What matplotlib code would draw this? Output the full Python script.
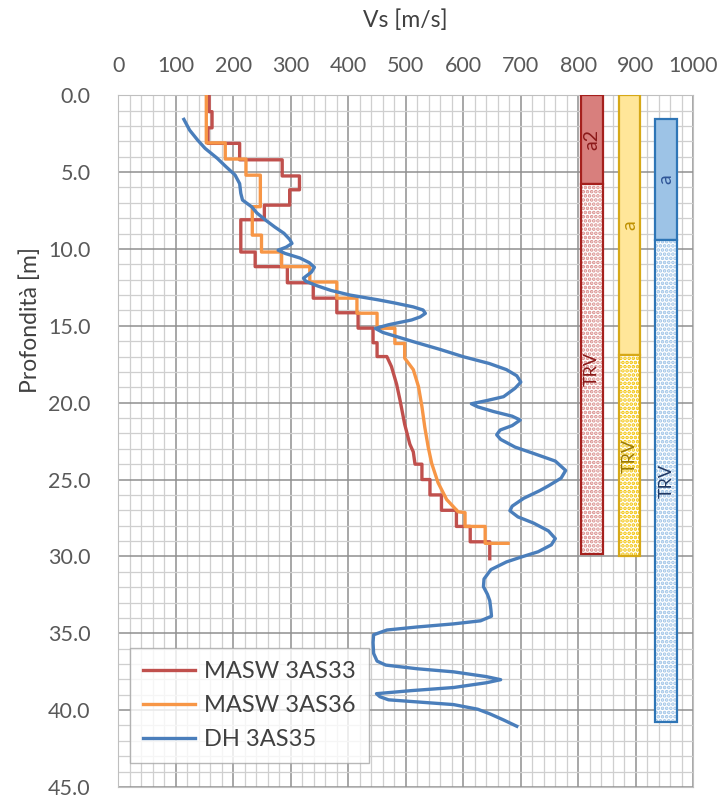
import numpy as np
import matplotlib
matplotlib.use('Agg')
import matplotlib.pyplot as plt
from matplotlib.ticker import MultipleLocator, FormatStrFormatter

plt.rcParams['font.family'] = ['Lato', 'DejaVu Sans']

# --- data ---
# MASW 3AS33 (step profile + smooth tail)
masw33_vs = [158, 158, 163, 163, 156, 156, 211, 211, 285, 285, 315, 315, 298, 298, 254, 254,
             213, 213, 238, 238, 294, 294, 339, 339, 380, 380, 417, 417, 443, 443, 450, 450,
             467, 475, 484, 490, 498, 507, 513, 516, 528, 528, 542, 542, 562, 562, 588, 588,
             612, 612, 646, 646]
masw33_z = [0, 1.07, 1.07, 2.12, 2.12, 3.13, 3.13, 4.2, 4.2, 5.25, 5.25, 6.15, 6.15, 7.15, 7.15, 8.1,
            8.1, 10.2, 10.2, 11.15, 11.15, 12.2, 12.2, 13.2, 13.2, 14.15, 14.15, 15.15, 15.15, 16.1, 16.1, 17.0,
            17.0, 17.65, 18.8, 19.85, 21.4, 22.7, 23.2, 24.0, 24.0, 25.0, 25.0, 26.0, 26.0, 27.0, 27.0, 28.05,
            28.05, 29.05, 29.05, 30.15]

# MASW 3AS36
masw36_vs = [153, 153, 186, 186, 222, 222, 247, 247, 233, 233, 249, 249, 284, 284, 333, 333,
             380, 380, 415, 415, 450, 450, 481, 481, 498, 498, 513, 522, 528, 533, 539, 545,
             556, 571, 591, 603, 603, 638, 638, 678]
masw36_z = [0, 3.1, 3.1, 4.15, 4.15, 5.2, 5.2, 7.25, 7.25, 9.1, 9.1, 10.2, 10.2, 11.15, 11.15, 12.15,
            12.15, 13.2, 13.2, 14.18, 14.18, 15.16, 15.16, 16.15, 16.15, 17.1, 17.85, 18.95, 20.25, 21.6, 22.9, 23.95,
            25.2, 26.3, 27.1, 27.15, 28.05, 28.05, 29.15, 29.15]

# DH 3AS35 (down-hole)
dh_z = [1.57, 2.27, 2.92, 3.46, 4.1, 4.64, 5.19, 5.75, 6.38, 6.82, 7.26, 7.66, 8.12, 8.57, 8.98, 9.38,
        9.64, 9.88, 10.08, 10.29, 10.59, 10.89, 11.19, 11.5, 11.9, 12.1, 12.4, 12.7, 13.0, 13.31, 13.51, 13.77,
        13.97, 14.19, 14.42, 14.62, 14.93, 15.17, 15.43, 16.03, 16.54, 17.01, 17.45, 17.85, 18.25, 18.66, 19.06, 19.61,
        19.87, 20.07, 20.27, 20.57, 20.88, 21.13, 21.49, 21.78, 22.09, 22.39, 22.89, 23.3, 23.8, 24.41, 24.91, 25.41,
        25.72, 26.22, 26.73, 27.03, 27.43, 27.83, 28.34, 28.84, 29.25, 29.7, 30.05, 30.36, 30.86, 31.47, 31.97, 32.47,
        32.88, 33.48, 33.89, 34.19, 34.39, 34.59, 34.79, 35.1, 35.6, 36.31, 36.81, 37.07, 37.31, 37.51, 37.82, 38.02,
        38.22, 38.53, 38.73, 38.93, 39.13, 39.33, 39.64, 39.94, 40.24, 40.64, 41.05]
dh_vs = [114, 124, 138, 151, 172, 187, 203, 211, 213, 216, 232, 241, 256, 272, 288, 298,
         302, 292, 278, 290, 316, 332, 341, 336, 322, 326, 346, 370, 403, 452, 480, 513,
         530, 534, 525, 510, 470, 447, 460, 513, 560, 600, 645, 675, 693, 700, 690, 670,
         640, 614, 625, 652, 685, 699, 685, 664, 658, 665, 690, 722, 760, 778, 770, 748,
         733, 705, 685, 681, 695, 722, 748, 760, 753, 730, 700, 675, 648, 636, 635, 642,
         646, 648, 649, 630, 583, 520, 467, 444, 443, 444, 450, 465, 520, 583, 640, 665,
         640, 583, 510, 449, 455, 470, 583, 625, 646, 670, 693]

# stratigraphic columns
col_x = [824, 889, 953]
col_top = [[0, 5.8], [0, 16.9], [1.55, 9.4]]
col_bot = [[5.8, 29.85], [16.9, 30.0], [9.4, 40.8]]
col_lab = [['a2', 'TRV'], ['a', 'TRV'], ['a', 'TRV']]

red = '#c0504d'
orange = '#f79646'
blue = '#4a7ebb'

fig = plt.figure(figsize=(7.25, 8.01), dpi=100)
ax = fig.add_axes([0.1632, 0.0175, 0.7931, 0.8636])

ax.set_xlim(0, 1000)
ax.set_ylim(45, 0)
ax.xaxis.set_major_locator(MultipleLocator(100))
ax.xaxis.set_minor_locator(MultipleLocator(20))
ax.yaxis.set_major_locator(MultipleLocator(5))
ax.yaxis.set_minor_locator(MultipleLocator(1))
ax.yaxis.set_major_formatter(FormatStrFormatter('%.1f'))
ax.xaxis.tick_top()
ax.tick_params(which='both', length=0, colors='#595959', labelsize=15.5)
ax.tick_params(axis='x', pad=14)
ax.tick_params(axis='y', pad=20)
ax.grid(which='minor', color='#cfcfcf', lw=0.9)
ax.grid(which='major', color='#8f8f8f', lw=1.1)
ax.set_axisbelow(True)
for s in ax.spines.values():
    s.set_color('#bfbfbf')

# columns
fills = ['#d87f7d', '#ffe699', '#9dc3e6']
edges = ['#a5201d', '#d6a817', '#2e75b6']
dots = ['#d98c8a', '#f2c200', '#9cc2e6']
txtc = [['#8b1a1a', '#8b1a1a'], ['#bf9000', '#9c7a00'], ['#2f5597', '#203864']]
plt.rcParams['hatch.linewidth'] = 1.8
w = 38
for i in range(3):
    t0, t1 = col_top[i]
    b0, b1 = col_bot[i]
    ax.bar(col_x[i], b0 - t0, bottom=t0, width=w, color=fills[i], edgecolor=edges[i], lw=1.6, zorder=3)
    ax.bar(col_x[i], b1 - t1, bottom=t1, width=w, color='white', edgecolor=dots[i], hatch='....', lw=0, zorder=3)
    ax.bar(col_x[i], b1 - t1, bottom=t1, width=w, fill=False, edgecolor=edges[i], lw=1.6, zorder=4)
    ax.text(col_x[i], (t0 + b0) / 2, col_lab[i][0], rotation=90, ha='center', va='center',
            color=txtc[i][0], fontsize=14, zorder=5)
    ax.text(col_x[i], (t1 + b1) / 2, col_lab[i][1], rotation=90, ha='center', va='center',
            color=txtc[i][1], fontsize=13, zorder=5)

ax.plot(masw33_vs, masw33_z, color=red, lw=2.4, label='MASW 3AS33', zorder=6)
ax.plot(masw36_vs, masw36_z, color=orange, lw=2.4, label='MASW 3AS36', zorder=6)
ax.plot(dh_vs, dh_z, color=blue, lw=2.4, label='DH 3AS35', zorder=6)

leg = ax.legend(loc='lower left', bbox_to_anchor=(0.02, 0.035), borderaxespad=0,
                fontsize=17, frameon=True, fancybox=False, handlelength=2.2,
                labelspacing=0.55, borderpad=0.55, handletextpad=0.4)
leg.get_frame().set_edgecolor('#a6a6a6')
leg.get_frame().set_linewidth(1.0)
for t in leg.get_texts():
    t.set_color('#404040')
leg.set_zorder(10)

fig.text(405 / 725, 1 - 20 / 801, 'Vs [m/s]', ha='center', va='center', fontsize=16.5, color='#404040')
fig.text(30 / 725, 1 - 320 / 801, 'Profondità [m]', ha='center', va='center', rotation=90,
         fontsize=16.5, color='#404040')

fig.savefig('out.png', dpi=100)
